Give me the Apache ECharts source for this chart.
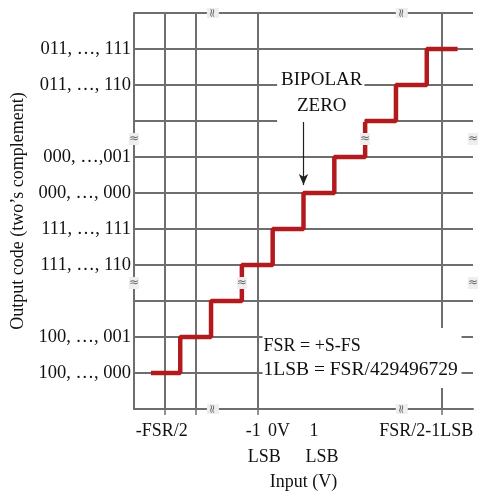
<!DOCTYPE html>
<html>
<head>
<meta charset="utf-8">
<script src="https://cdn.jsdelivr.net/npm/echarts@6/dist/echarts.min.js"></script>
<style>
  html, body { margin: 0; padding: 0; background: #fff; }
  #main { width: 479px; height: 491px; }
</style>
</head>
<body>
<div id="main"></div>
<script>
"use strict"
// x axis: first row of labels, second row ("LSB") and tick marks
var xLabelValues = [1, 4, 5, 6, 10];
var xLabelTexts = ['{p|-FSR/2}', '{q|-1}', '{r|0V}', '{s|1}', '{t|FSR/2-1LSB}'];
var xLabel2Values = [4, 6];
var xLabel2Texts = ['{u|LSB}', '{v|LSB}'];
var xTickValues = [1, 2, 4, 10];
// y axis labels
var yLabelValues = [1, 2, 4, 5, 6, 7, 9, 10];
var yLabelTexts = ['100, …, 000', '100, …, 001', '111, …, 110', '111, …, 111',
                   '000, …, 000', '000, …,001', '011, …, 110', '011, …, 111'];

// transfer function: input where each code starts, and the code level
var stepStart = [0.55, 1.5, 2.5, 3.5, 4.5, 5.5, 6.5, 7.5, 8.5, 9.5];
var stepCode  = [1, 2, 3, 4, 5, 6, 7, 8, 9, 10];
var stepEnd = 10.5;

// axis break marks
var breakMarks = [[0, 7.5], [0, 3.5], [11, 7.5], [11, 3.5], [7.5, 7.5], [3.5, 3.5]];
var breakMarksRot = [[2.56, 11], [8.69, 11], [2.56, 0], [8.69, 0]];

// annotations (anchor in data units)
var zeroNote = { at: [6.06, 8.78], text: 'BIPOLAR\nZERO' };
var fsrNote = { at: [4.17, 1.42], lines: ['FSR = +S-FS', '1LSB = FSR/4294967296'] };
var arrowFrom = [5.5, 8.1], arrowTo = [5.5, 6.22];

var serif = '"Liberation Serif", serif';
var gridColor = '#6e6e6e';
var ink = '#111';

var stairs = [];
for (var i = 0; i < stepStart.length; i++) {
  stairs.push([stepStart[i], stepCode[i]]);
}
stairs.push([stepEnd, stepCode[stepCode.length - 1]]);

function tok(pad) {
  return { fontFamily: serif, fontSize: 18, color: ink, padding: pad };
}

var myChart = echarts.init(document.getElementById('main'));
var option = {
  backgroundColor: '#fff',
  animation: false,
  grid: { left: 134, right: 6, top: 13, bottom: 82, containLabel: false, outerBoundsMode: 'none' },
  xAxis: [{
    type: 'value', min: 0, max: 11, interval: 1,
    name: 'Input (V)', nameLocation: 'middle', nameGap: 64,
    nameTextStyle: { fontFamily: serif, fontSize: 18, color: ink },
    axisLine: { show: true, lineStyle: { color: gridColor, width: 2 } },
    axisTick: { show: true, length: 6, customValues: xTickValues, lineStyle: { color: gridColor, width: 1.5 } },
    splitLine: { show: true, lineStyle: { color: gridColor, width: 2 } },
    axisLabel: {
      customValues: xLabelValues,
      margin: 13,
      formatter: function (v) {
        var idx = xLabelValues.indexOf(v);
        return idx < 0 ? '' : xLabelTexts[idx];
      },
      rich: {
        p: tok([0, 6, 0, 0]),
        q: tok([0, 8, 0, 0]),
        r: tok([0, 18, 0, 0]),
        s: tok([0, 10, 0, 0]),
        t: tok([0, 32, 0, 0])
      }
    }
  }, {
    type: 'value', min: 0, max: 11, position: 'bottom',
    axisLine: { show: false }, axisTick: { show: false }, splitLine: { show: false },
    axisLabel: {
      customValues: xLabel2Values,
      margin: 39,
      formatter: function (v) {
        var idx = xLabel2Values.indexOf(v);
        return idx < 0 ? '' : xLabel2Texts[idx];
      },
      rich: {
        u: tok([0, 0, 0, 14]),
        v: tok([0, 0, 0, 6])
      }
    }
  }],
  yAxis: {
    type: 'value', min: 0, max: 11, interval: 1,
    name: 'Output code (two’s complement)', nameLocation: 'middle', nameGap: 106,
    nameTextStyle: { fontFamily: serif, fontSize: 18, color: ink },
    axisLine: { show: true, lineStyle: { color: gridColor, width: 2 } },
    axisTick: { show: false },
    splitLine: { show: true, lineStyle: { color: gridColor, width: 2 } },
    axisLabel: {
      customValues: yLabelValues,
      margin: 3,
      padding: [0, 0, 5, 0],
      fontFamily: serif, fontSize: 18.5, color: ink,
      formatter: function (v) {
        var idx = yLabelValues.indexOf(v);
        return idx < 0 ? '' : yLabelTexts[idx];
      }
    }
  },
  series: [
    {
      name: 'code', type: 'line', step: 'end', data: stairs,
      symbol: 'none', z: 3,
      lineStyle: { color: '#b31a1e', width: 4.5 },
      markLine: {
        silent: true, symbol: ['none', 'arrow'], symbolSize: [7, 11],
        lineStyle: { color: '#222', width: 1.2, type: 'solid', opacity: 1 },
        label: { show: false },
        data: [[{ coord: arrowFrom }, { coord: arrowTo }]]
      }
    },
    {
      name: 'breaks', type: 'scatter', data: breakMarks, symbolSize: 0, z: 4, silent: true,
      itemStyle: { opacity: 1 },
      label: { show: true, position: 'inside', formatter: '≈', fontSize: 12, color: '#666',
               textBorderWidth: 0, fontFamily: 'DejaVu Sans', backgroundColor: '#eeeeee' }
    },
    {
      name: 'breaksTop', type: 'scatter', data: breakMarksRot, symbolSize: 0, z: 4, silent: true,
      itemStyle: { opacity: 1 },
      label: { show: true, position: 'inside', formatter: '≈', fontSize: 12, color: '#666', rotate: 90,
               textBorderWidth: 0, fontFamily: 'DejaVu Sans', backgroundColor: '#eeeeee' }
    }
  ]
};

if (option && typeof option === "object") {
  myChart.setOption(option, true);
}

// text boxes placed from data coordinates
var zp = myChart.convertToPixel({ gridIndex: 0 }, zeroNote.at);
var fp = myChart.convertToPixel({ gridIndex: 0 }, fsrNote.at);
myChart.setOption({
  graphic: [
    {
      type: 'text', x: zp[0], y: zp[1], z: 10,
      style: {
        text: zeroNote.text, font: '19px ' + serif, fill: ink, lineHeight: 26,
        align: 'center', verticalAlign: 'middle',
        backgroundColor: '#fff', padding: [4, 2, 2, 4]
      }
    },
    {
      type: 'text', x: fp[0], y: fp[1], z: 10,
      style: {
        text: '{u|' + fsrNote.lines[0] + '}\n{w|' + fsrNote.lines[1] + '}',
        font: '18px ' + serif, fill: ink,
        align: 'left', verticalAlign: 'middle',
        width: 198, overflow: 'truncate', ellipsis: '',
        backgroundColor: '#fff', padding: [6, 0, 6, 1],
        rich: {
          u: { font: '18px ' + serif, fill: ink, lineHeight: 24 },
          w: { font: '19.5px ' + serif, fill: ink, lineHeight: 24 }
        }
      }
    }
  ]
});
</script>
</body>
</html>
